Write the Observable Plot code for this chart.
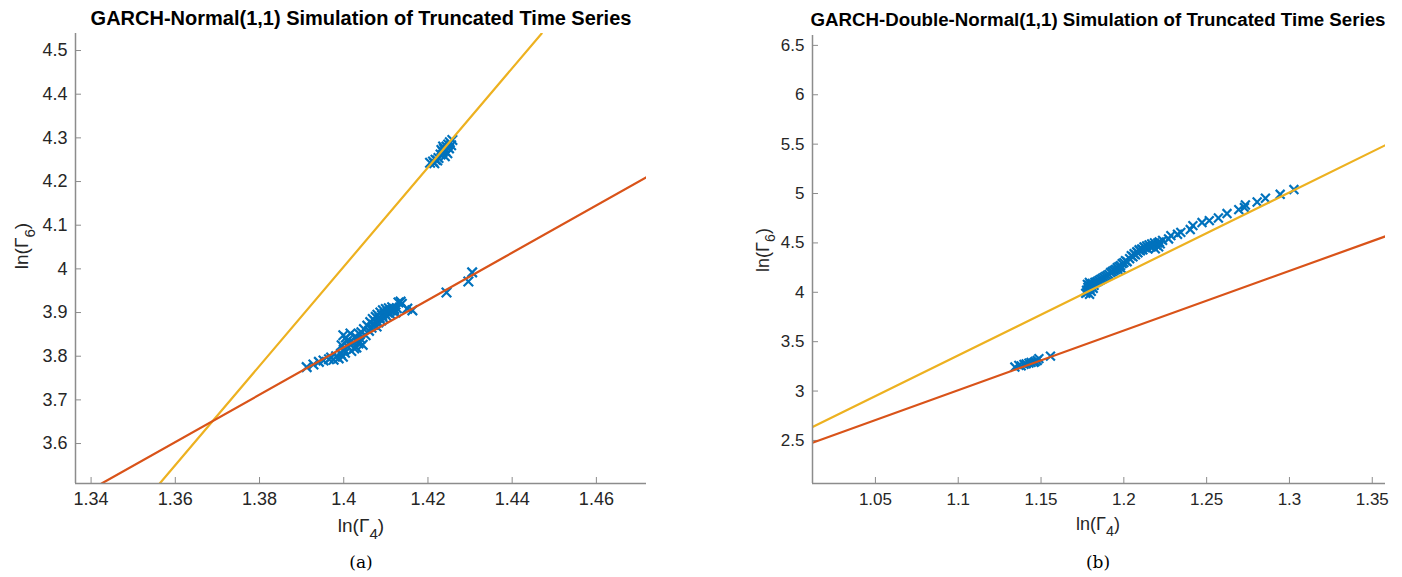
<!DOCTYPE html>
<html>
<head>
<meta charset="utf-8">
<script src="https://cdn.jsdelivr.net/npm/d3@7"></script>
<script src="https://cdn.jsdelivr.net/npm/@observablehq/plot@0.6"></script>
<style>
  html, body { margin: 0; padding: 0; background: #fff; }
  #wrap { position: relative; width: 1402px; height: 577px; overflow: hidden; font-family: "Liberation Sans", Arial, sans-serif; color: #262626; }
  .panel { position: absolute; top: 0; }
  .title { position: absolute; font-weight: bold; white-space: nowrap; transform: translateX(-50%); color: #000; }
  .xlab { position: absolute; white-space: nowrap; transform: translateX(-50%); }
  .ylab { position: absolute; white-space: nowrap; transform: translate(-50%, -50%) rotate(-90deg); }
  .cap { position: absolute; font-family: "DejaVu Serif", "Liberation Serif", serif; transform: translateX(-50%); color: #000; }
  sub { font-size: 0.8em; vertical-align: -0.45em; line-height: 0; }
</style>
</head>
<body>
<div id="wrap">
  <div id="left" class="panel" style="left:0px"></div>
  <div id="right" class="panel" style="left:700px"></div>
  <div class="title" style="left:361px; top:7px; font-size:20px">GARCH-Normal(1,1) Simulation of Truncated Time Series</div>
  <div class="title" style="left:1098px; top:9px; font-size:18.7px">GARCH-Double-Normal(1,1) Simulation of Truncated Time Series</div>
  <div class="xlab" style="left:361px; top:515px; font-size:19px">ln(Γ<sub>4</sub>)</div>
  <div class="xlab" style="left:1098px; top:514px; font-size:18px">ln(Γ<sub>4</sub>)</div>
  <div class="ylab" style="left:22px; top:246px; font-size:19px">ln(Γ<sub>6</sub>)</div>
  <div class="ylab" style="left:763px; top:250px; font-size:18px">ln(Γ<sub>6</sub>)</div>
  <div class="cap" style="left:361px; top:552px; font-size:17px">(a)</div>
  <div class="cap" style="left:1098px; top:552px; font-size:17px">(b)</div>
</div>
<script>
// ---------- Panel (a) data ----------
const aXTicks = [1.34, 1.36, 1.38, 1.40, 1.42, 1.44, 1.46];
const aYTicks = [3.6, 3.7, 3.8, 3.9, 4.0, 4.1, 4.2, 4.3, 4.4, 4.5];
const aXDomain = [1.3363, 1.4719];
const aYDomain = [3.5085, 4.539];
const aPointsX = [
  1.3912, 1.3928, 1.3941, 1.3952, 1.3965, 1.3970, 1.3976, 1.3982, 1.3988, 1.3993, 1.3998, 1.4003, 1.4000,
  1.3999, 1.4016, 1.4008, 1.4023, 1.4035, 1.4030, 1.4040, 1.4028, 1.4045,
  1.3995, 1.4005, 1.4012, 1.4018, 1.4025, 1.4033, 1.4038, 1.4010,
  1.4042, 1.4048, 1.4052, 1.4056, 1.4060, 1.4063, 1.4066, 1.4069, 1.4071, 1.4074, 1.4076, 1.4078, 1.4080,
  1.4082, 1.4085, 1.4087, 1.4089, 1.4091, 1.4093, 1.4095, 1.4097, 1.4100, 1.4102, 1.4104, 1.4107, 1.4110,
  1.4112, 1.4115, 1.4118, 1.4120, 1.4123, 1.4126, 1.4130, 1.4135, 1.4138,
  1.4151, 1.4163, 1.4244, 1.4296, 1.4305,
  1.4205, 1.4212, 1.4218, 1.4215, 1.4222, 1.4225, 1.4230, 1.4235, 1.4238, 1.4241, 1.4244, 1.4246, 1.4248,
  1.4250, 1.4252, 1.4255, 1.4240, 1.4236, 1.4258, 1.4232
];
const aPointsY = [
  3.775, 3.781, 3.787, 3.790, 3.793, 3.797, 3.792, 3.800, 3.795, 3.805, 3.799, 3.808, 3.815,
  3.848, 3.852, 3.835, 3.832, 3.829, 3.820, 3.840, 3.845, 3.826,
  3.825, 3.843, 3.830, 3.812, 3.818, 3.838, 3.850, 3.822,
  3.855, 3.862, 3.848, 3.870, 3.858, 3.878, 3.865, 3.885, 3.872, 3.880, 3.890, 3.868, 3.895,
  3.877, 3.888, 3.900, 3.882, 3.893, 3.905, 3.887, 3.898, 3.908, 3.892, 3.902, 3.910, 3.897,
  3.905, 3.912, 3.903, 3.908, 3.900, 3.910, 3.923, 3.925, 3.920,
  3.909, 3.905, 3.946, 3.971, 3.992,
  4.243, 4.246, 4.250, 4.242, 4.248, 4.254, 4.262, 4.268, 4.275, 4.270, 4.280, 4.265, 4.285,
  4.276, 4.290, 4.283, 4.258, 4.280, 4.295, 4.272
];
const aYellowX = [1.3563, 1.4470];
const aYellowY = [3.5085, 4.539];
const aOrangeX = [1.3425, 1.4719];
const aOrangeY = [3.5085, 4.210];

// ---------- Panel (b) data ----------
const bXTicks = [1.05, 1.10, 1.15, 1.20, 1.25, 1.30, 1.35];
const bYTicks = [2.5, 3.0, 3.5, 4.0, 4.5, 5.0, 5.5, 6.0, 6.5];
const bXDomain = [1.012, 1.358];
const bYDomain = [2.064, 6.60];
const bPointsX = [
  1.3027, 1.2944, 1.2855, 1.2805, 1.2734, 1.2728, 1.2694, 1.2623, 1.2571, 1.2516, 1.2472, 1.2417, 1.2401,
  1.2344, 1.2324, 1.2284, 1.2270, 1.2234, 1.2214,
  1.2035, 1.2045, 1.2055, 1.2062, 1.2070, 1.2078, 1.2085, 1.2092, 1.2100, 1.2108, 1.2115, 1.2122, 1.2130,
  1.2138, 1.2145, 1.2152, 1.2160, 1.2168, 1.2175, 1.2185, 1.2195, 1.2205, 1.2210, 1.2190, 1.2220,
  1.1830, 1.1840, 1.1850, 1.1860, 1.1870, 1.1880, 1.1890, 1.1900, 1.1910, 1.1920, 1.1930, 1.1940, 1.1950,
  1.1960, 1.1970, 1.1980, 1.1990, 1.2000, 1.2010, 1.2020, 1.1965, 1.1985,
  1.1770, 1.1775, 1.1780, 1.1783, 1.1786, 1.1790, 1.1793, 1.1796, 1.1800, 1.1803, 1.1806, 1.1810, 1.1815,
  1.1820, 1.1825, 1.1780, 1.1792,
  1.1342, 1.1366, 1.1380, 1.1397, 1.1410, 1.1427, 1.1440, 1.1457, 1.1465, 1.1477, 1.1487, 1.1557
];
const bPointsY = [
  5.040, 4.992, 4.952, 4.914, 4.884, 4.858, 4.837, 4.797, 4.752, 4.726, 4.706, 4.675, 4.635,
  4.607, 4.587, 4.574, 4.540, 4.526, 4.509,
  4.34, 4.37, 4.36, 4.39, 4.38, 4.41, 4.40, 4.43, 4.42, 4.44, 4.43, 4.46, 4.45,
  4.47, 4.44, 4.48, 4.46, 4.49, 4.47, 4.50, 4.48, 4.50, 4.46, 4.44, 4.49,
  4.10, 4.11, 4.12, 4.13, 4.14, 4.15, 4.16, 4.17, 4.18, 4.20, 4.21, 4.22, 4.23,
  4.25, 4.26, 4.27, 4.29, 4.30, 4.32, 4.31, 4.23, 4.24,
  3.99, 4.02, 4.00, 4.05, 4.03, 4.07, 3.98, 4.04, 4.08, 4.01, 4.06, 4.09, 4.04,
  4.07, 4.10, 4.08, 4.10,
  3.243, 3.260, 3.255, 3.270, 3.275, 3.283, 3.290, 3.290, 3.300, 3.310, 3.328, 3.354
];
const bYellowX = [1.012, 1.358];
const bYellowY = [2.635, 5.490];
const bOrangeX = [1.012, 1.358];
const bOrangeY = [2.477, 4.567];

const BLUE = "#0072BD", YELLOW = "#EDB120", ORANGE = "#D95319", AXIS = "#8c8c8c";

function zip(xs, ys) { return xs.map((x, i) => ({x, y: ys[i]})); }

function panel(o) {
  const innerW = o.width - o.ml - o.mr;
  const innerH = o.height - o.mt - o.mb;
  return Plot.plot({
    width: o.width, height: o.height,
    marginLeft: o.ml, marginRight: o.mr, marginTop: o.mt, marginBottom: o.mb,
    style: {fontFamily: "'Liberation Sans', Arial, sans-serif", fontSize: o.fs + "px", color: "#262626", background: "transparent", overflow: "visible"},
    x: {domain: o.xDomain},
    y: {domain: o.yDomain},
    marks: [
      Plot.axisX(o.xTicks, {tickSize: 0, tickPadding: o.xpad, tickFormat: d3.format("~g"), label: null, fontSize: o.fs}),
      Plot.axisY(o.yTicks, {tickSize: 0, tickPadding: o.ypad, tickFormat: d3.format("~g"), label: null, fontSize: o.fs}),
      Plot.tickX(o.xTicks, {x: d => d, insetTop: innerH - 6, stroke: AXIS, strokeWidth: 1}),
      Plot.tickY(o.yTicks, {y: d => d, insetRight: innerW - 6, stroke: AXIS, strokeWidth: 1}),
      Plot.dot(zip(o.px, o.py), {x: "x", y: "y", symbol: "times", r: o.r, stroke: BLUE, strokeWidth: 2.2}),
      Plot.line(zip(o.yx, o.yy), {x: "x", y: "y", stroke: YELLOW, strokeWidth: 2.2, clip: true}),
      Plot.line(zip(o.ox, o.oy), {x: "x", y: "y", stroke: ORANGE, strokeWidth: 2.2, clip: true}),
      Plot.ruleX([o.xDomain[0]], {stroke: AXIS, strokeWidth: 1.5}),
      Plot.ruleY([o.yDomain[0]], {stroke: AXIS, strokeWidth: 1.5})
    ]
  });
}

document.getElementById("left").appendChild(panel({
  width: 700, height: 577, ml: 75, mr: 54, mt: 33, mb: 94, fs: 18, xpad: 9, ypad: 8, r: 4.4,
  xDomain: aXDomain, yDomain: aYDomain, xTicks: aXTicks, yTicks: aYTicks,
  px: aPointsX, py: aPointsY, yx: aYellowX, yy: aYellowY, ox: aOrangeX, oy: aOrangeY
}));

document.getElementById("right").appendChild(panel({
  width: 702, height: 577, ml: 112, mr: 17, mt: 35, mb: 94, fs: 17, xpad: 9, ypad: 8, r: 4.1,
  xDomain: bXDomain, yDomain: bYDomain, xTicks: bXTicks, yTicks: bYTicks,
  px: bPointsX, py: bPointsY, yx: bYellowX, yy: bYellowY, ox: bOrangeX, oy: bOrangeY
}));
</script>
</body>
</html>
